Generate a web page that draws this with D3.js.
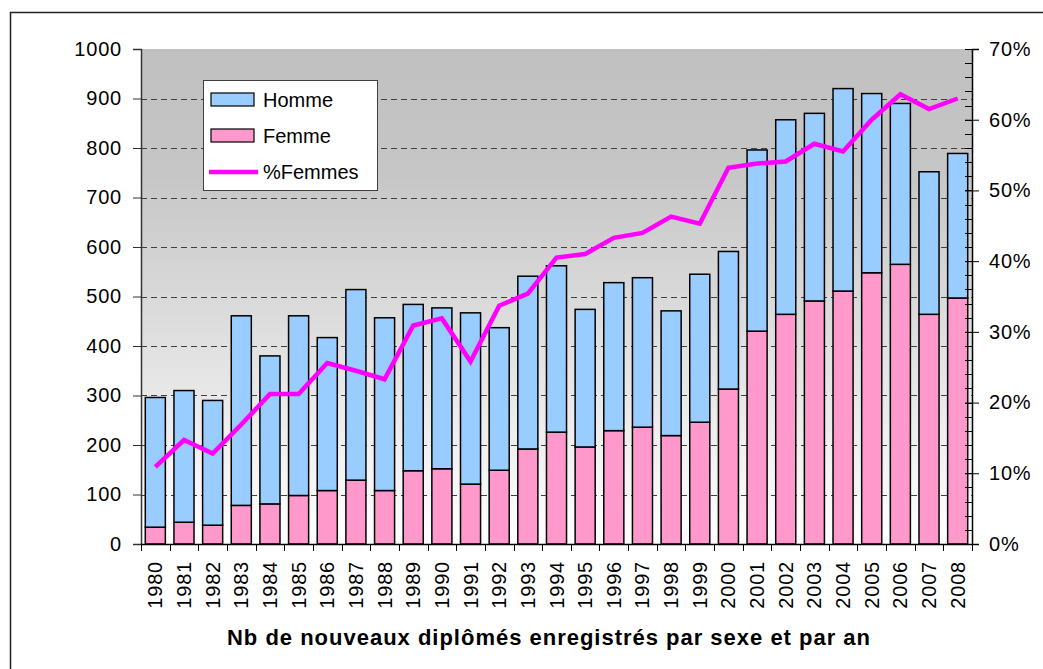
<!DOCTYPE html>
<html>
<head>
<meta charset="utf-8">
<script src="https://cdn.jsdelivr.net/npm/d3@7"></script>
<style>
  body { margin: 0; background: #fff; }
  svg { display: block; font-family: "Liberation Sans", Arial, sans-serif; }
</style>
</head>
<body>
<div id="chart"></div>
<script>
"use strict"

// data
var years = ["1980","1981","1982","1983","1984","1985","1986","1987","1988","1989",
  "1990","1991","1992","1993","1994","1995","1996","1997","1998","1999",
  "2000","2001","2002","2003","2004","2005","2006","2007","2008"];
var femme = [34,44,38,78,81,98,108,129,108,148,152,121,149,192,226,196,229,236,219,246,
  313,430,464,491,511,548,565,464,497];
var homme = [262,266,252,383,299,363,309,385,349,336,325,346,288,349,336,278,299,302,252,299,
  278,366,393,379,409,362,325,288,292];
var pctFemmes = [10.9,14.7,12.8,16.9,21.2,21.2,25.6,24.5,23.3,30.9,31.9,25.8,33.7,35.4,40.5,41.0,
  43.3,44.0,46.3,45.3,53.2,53.8,54.1,56.6,55.5,60.0,63.6,61.5,63.0];
var leftTicks = [0,100,200,300,400,500,600,700,800,900,1000];
var rightTicks = [0,10,20,30,40,50,60,70];
var legendLabels = ["Homme","Femme","%Femmes"];
var title = "Nb de nouveaux diplômés enregistrés par sexe et par an";

var W = 1043, H = 669;
var plotL = 141, plotR = 972, plotT = 49, plotB = 544;
var colHomme = "#99ccff", colFemme = "#ff99cc", colLine = "#ff00ff";
var fontFam = "'Liberation Sans', Arial, sans-serif";

var svg = d3.select("#chart").append("svg")
  .attr("width", W).attr("height", H);

// outer frame (only left and top edges are visible)
svg.append("rect")
  .attr("x", 10.5).attr("y", 12.5)
  .attr("width", W).attr("height", H)
  .attr("fill", "none").attr("stroke", "#222").attr("stroke-width", 1.5);

var grad = svg.append("defs").append("linearGradient")
  .attr("id", "bg").attr("x1", 0).attr("y1", 0).attr("x2", 0).attr("y2", 1);
grad.append("stop").attr("offset", "0%").attr("stop-color", "#c0c0c0");
grad.append("stop").attr("offset", "25%").attr("stop-color", "#c6c6c6");
grad.append("stop").attr("offset", "100%").attr("stop-color", "#ffffff");

svg.append("rect")
  .attr("x", plotL).attr("y", plotT)
  .attr("width", plotR - plotL).attr("height", plotB - plotT)
  .attr("fill", "url(#bg)");

var x = d3.scaleBand().domain(years).range([plotL, plotR]).paddingInner(0.3).paddingOuter(0.15);
var y = d3.scaleLinear().domain([0, 1000]).range([plotB, plotT]);
var y2 = d3.scaleLinear().domain([0, 70]).range([plotB, plotT]);

// dashed gridlines
svg.append("g").selectAll("line")
  .data(leftTicks.filter(function(d){ return d > 0 && d < 1000; }))
  .enter().append("line")
  .attr("x1", plotL).attr("x2", plotR)
  .attr("y1", function(d){ return Math.round(y(d)) + 0.5; })
  .attr("y2", function(d){ return Math.round(y(d)) + 0.5; })
  .attr("stroke", "#404040").attr("stroke-width", 1)
  .attr("stroke-dasharray", "6,4");

// stacked bars
var rows = years.map(function(yr, i){ return {year: yr, femme: femme[i], homme: homme[i]}; });
var stacked = d3.stack().keys(["femme", "homme"])(rows);
var colors = {femme: colFemme, homme: colHomme};

svg.append("g").selectAll("g")
  .data(stacked).enter().append("g")
  .attr("fill", function(s){ return colors[s.key]; })
  .selectAll("rect")
  .data(function(s){ return s; })
  .enter().append("rect")
  .attr("x", function(d){ return x(d.data.year); })
  .attr("width", x.bandwidth())
  .attr("y", function(d){ return y(d[1]); })
  .attr("height", function(d){ return y(d[0]) - y(d[1]); })
  .attr("stroke", "#000").attr("stroke-width", 1.5);

// %Femmes line
var line = d3.line()
  .x(function(d, i){ return x(years[i]) + x.bandwidth() / 2; })
  .y(function(d){ return y2(d); });

svg.append("path")
  .datum(pctFemmes)
  .attr("d", line)
  .attr("fill", "none").attr("stroke", colLine).attr("stroke-width", 4.5);

// left axis
var leftAxis = svg.append("g")
  .attr("transform", "translate(" + plotL + ",0)")
  .call(d3.axisLeft(y).tickValues(leftTicks).tickSize(8).tickPadding(11)
    .tickFormat(d3.format("d")));
leftAxis.select(".domain").attr("stroke", "#333").attr("stroke-width", 1.5);
leftAxis.selectAll(".tick line").attr("stroke", "#333");
leftAxis.selectAll("text").attr("font-size", "20px").attr("fill", "#000")
  .attr("font-family", fontFam).style("letter-spacing", "0.8px");

// right axis: minor ticks inside every 2%, major crossing every 10%
var minor = d3.range(0, 71, 2);
svg.append("g").selectAll("line")
  .data(minor).enter().append("line")
  .attr("x1", plotR - 7).attr("x2", plotR)
  .attr("y1", function(d){ return Math.round(y2(d)) + 0.5; })
  .attr("y2", function(d){ return Math.round(y2(d)) + 0.5; })
  .attr("stroke", "#000");

var rightAxis = svg.append("g")
  .attr("transform", "translate(" + plotR + ",0)")
  .call(d3.axisRight(y2).tickValues(rightTicks).tickSize(7).tickPadding(10)
    .tickFormat(function(d){ return d + "%"; }));
rightAxis.select(".domain").attr("stroke", "#000").attr("stroke-width", 1.5);
rightAxis.selectAll(".tick line").attr("x1", -7).attr("stroke", "#000");
rightAxis.selectAll("text").attr("font-size", "20px").attr("fill", "#000")
  .attr("font-family", fontFam).style("letter-spacing", "0.8px");

// bottom axis
var step = x.step();
var edges = years.map(function(yr){ return x(yr) - (step - x.bandwidth()) / 2; });
edges.push(plotR);
svg.append("line")
  .attr("x1", plotL).attr("x2", plotR).attr("y1", plotB + 0.5).attr("y2", plotB + 0.5)
  .attr("stroke", "#000").attr("stroke-width", 1.5);
svg.append("g").selectAll("line")
  .data(edges).enter().append("line")
  .attr("x1", function(d){ return Math.round(d) + 0.5; })
  .attr("x2", function(d){ return Math.round(d) + 0.5; })
  .attr("y1", plotB).attr("y2", plotB + 7)
  .attr("stroke", "#000");

svg.append("g").selectAll("text")
  .data(years).enter().append("text")
  .attr("transform", function(d){
    return "translate(" + (x(d) + x.bandwidth() / 2) + "," + 561 + ") rotate(-90)";
  })
  .attr("text-anchor", "end")
  .attr("dy", "0.35em")
  .attr("font-size", "20px")
  .style("letter-spacing", "0.8px")
  .text(function(d){ return d; });

// title
svg.append("text")
  .attr("x", 227).attr("y", 645)
  .attr("font-size", "22px").attr("font-weight", "bold")
  .attr("textLength", 643).attr("lengthAdjust", "spacing")
  .text(title);

// legend
var lg = svg.append("g").attr("transform", "translate(203,80)");
lg.append("rect")
  .attr("x", 0.5).attr("y", 0.5).attr("width", 174).attr("height", 110)
  .attr("fill", "#fff").attr("stroke", "#404040").attr("stroke-width", 1);
var rowsY = [20, 56, 92];
legendLabels.forEach(function(lbl, i){
  if (i < 2) {
    lg.append("rect")
      .attr("x", 8).attr("y", rowsY[i] - 7).attr("width", 43).attr("height", 13)
      .attr("fill", i === 0 ? colHomme : colFemme)
      .attr("stroke", "#000").attr("stroke-width", 1.2);
  } else {
    lg.append("line")
      .attr("x1", 6).attr("x2", 55).attr("y1", rowsY[i]).attr("y2", rowsY[i])
      .attr("stroke", colLine).attr("stroke-width", 4.5);
  }
  lg.append("text")
    .attr("x", 60).attr("y", rowsY[i])
    .attr("dy", "0.36em")
    .attr("font-size", "20px")
    .text(lbl);
});
</script>
</body>
</html>
